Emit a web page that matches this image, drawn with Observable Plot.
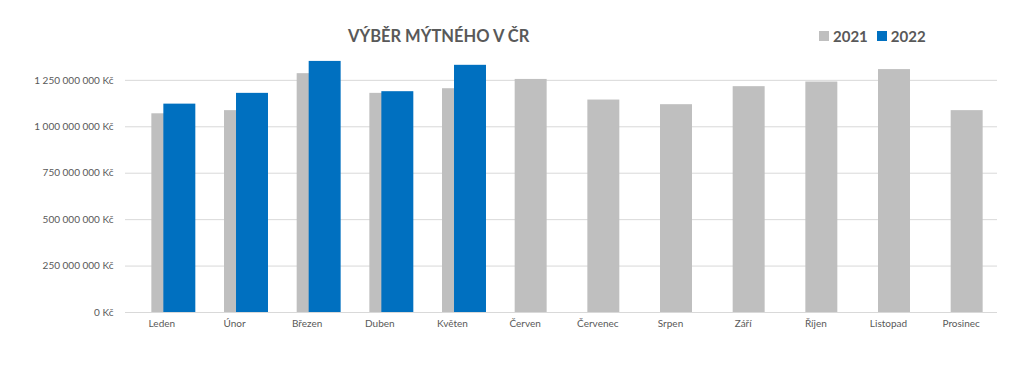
<!DOCTYPE html>
<html>
<head>
<meta charset="utf-8">
<script src="https://cdn.jsdelivr.net/npm/d3@7"></script>
<script src="https://cdn.jsdelivr.net/npm/@observablehq/plot@0.6"></script>
<style>
  html, body { margin: 0; padding: 0; background: #fff; }
  #wrap { position: relative; width: 1024px; height: 365px; font-family: Lato, "Open Sans", sans-serif; }
  #title { position: absolute; left: 348px; top: 26px; white-space: nowrap; font-weight: bold; font-size: 16.5px; line-height: 20px; color: #595959; }
  #legend { position: absolute; left: 819px; top: 27px; font-weight: bold; font-size: 15px; color: #595959; display: flex; align-items: center; }
  .sw { display: inline-block; width: 10px; height: 10px; margin-right: 4px; }
  .item { display: flex; align-items: center; margin-right: 9px; }
  svg { position: absolute; left: 0; top: 0; }
</style>
</head>
<body>
<div id="wrap">
  <div id="title">VÝBĚR MÝTNÉHO V ČR</div>
  <div id="legend"></div>
</div>
<script>
const months = ["Leden", "Únor", "Březen", "Duben", "Květen", "Červen", "Červenec", "Srpen", "Září", "Říjen", "Listopad", "Prosinec"];
const values2021 = [1070e6, 1087e6, 1286e6, 1180e6, 1205e6, 1255e6, 1144e6, 1119e6, 1216e6, 1241e6, 1308e6, 1087e6];
const values2022 = [1122e6, 1180e6, 1352e6, 1189e6, 1331e6];
const yTicks = [0, 250e6, 500e6, 750e6, 1000e6, 1250e6];
const seriesNames = ["2021", "2022"];
const seriesColors = ["#BFBFBF", "#0070C0"];

const d2021 = months.map((m, i) => ({month: m, value: values2021[i]}));
const d2022 = values2022.map((v, i) => ({month: months[i], value: v}));

const fmt = d => d3.format(",")(d).replace(/,/g, "\u00a0") + " Kč";

const chart = Plot.plot({
  width: 1024,
  height: 365,
  marginLeft: 125,
  marginRight: 27,
  marginTop: 52,
  marginBottom: 53,
  style: {fontFamily: "Lato, 'Open Sans', sans-serif", fontSize: "10px", color: "#595959", background: "transparent"},
  x: {domain: months, paddingInner: 0.56, paddingOuter: 0.28, align: 0.5, round: false, label: null, tickSize: 0, tickPadding: 7},
  y: {domain: [0, 1.4e9], label: null, ticks: yTicks, tickFormat: fmt, tickSize: 0, tickPadding: 12},
  marks: [
    Plot.ruleY(yTicks, {stroke: "#D9D9D9", strokeWidth: 1}),
    Plot.barY(d2021, {x: "month", y: "value", fill: seriesColors[0], dx: 6}),
    Plot.barY(d2022, {x: "month", y: "value", fill: seriesColors[1], dx: 18})
  ]
});
chart.querySelectorAll("text").forEach(t => t.setAttribute("fill", "#595959"));
document.getElementById("wrap").appendChild(chart);

const legend = document.getElementById("legend");
seriesNames.forEach((n, i) => {
  const it = document.createElement("div");
  it.className = "item";
  it.innerHTML = `<span class="sw" style="background:${seriesColors[i]}"></span>${n}`;
  legend.appendChild(it);
});
</script>
</body>
</html>
